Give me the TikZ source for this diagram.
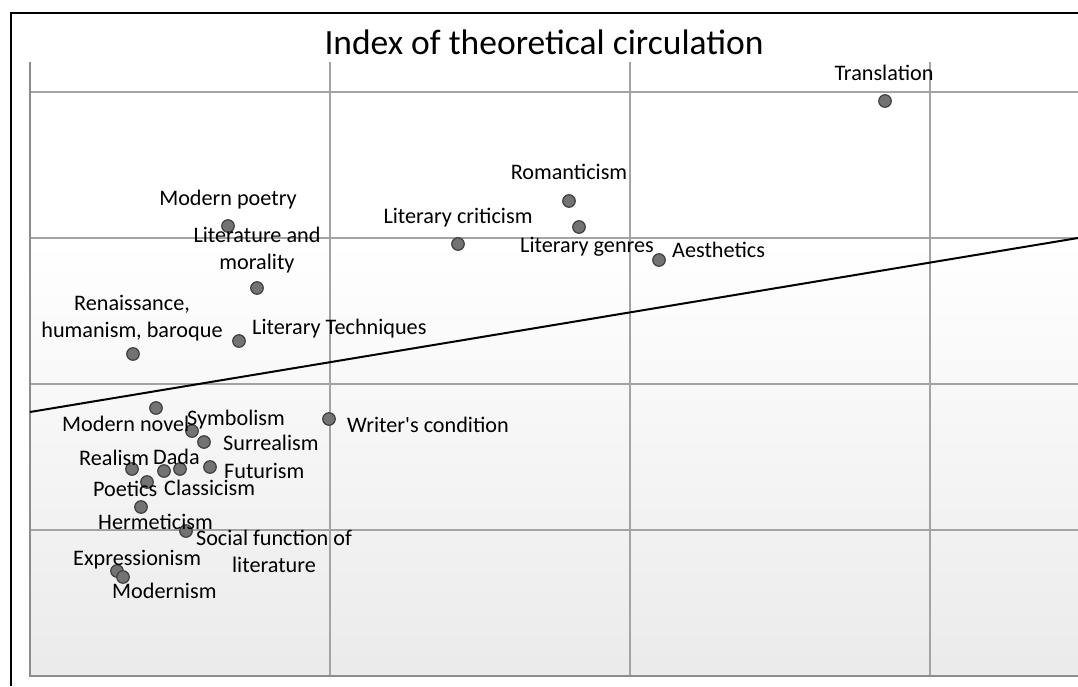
\documentclass[tikz,border=0pt]{standalone}
\usepackage{fontspec}
\setmainfont{Carlito}[Ligatures=TeXOff]
\begin{document}
\begin{tikzpicture}[x=1pt,y=-1pt,
  grid/.style={draw=black!36,line width=2pt},
  dot/.style={circle,draw=black!75,fill=black!55,line width=1.2pt,minimum size=12.5pt,inner sep=0pt},
  lbl/.style={inner sep=0pt,font=\fontsize{22.2}{27}\selectfont,text=black},
  lw/.style={lbl,anchor=mid west},
  lc/.style={lbl,anchor=mid},
  lm/.style={lbl,align=center,anchor=center}]
\useasboundingbox (0,0) rectangle (1078,686);
\fill[white] (0,0) rectangle (1078,686);
% plot background
\shade[top color=white,bottom color=black!8] (30,240) rectangle (1078,676);
% frame
\draw[black,line width=1.5pt] (11,686) -- (11,13) -- (1078,13);
% grid
\foreach \gx in {330,630,930} \draw[grid] (\gx,62) -- (\gx,676);
\foreach \gy in {92,238,384,530} \draw[grid] (30,\gy) -- (1078,\gy);
\draw[grid,draw=black!45] (30,62) -- (30,676) -- (1078,676);
% title
\node[inner sep=0pt,font=\fontsize{35.5}{40}\selectfont,anchor=mid] (title) at (544,52) {Index of theoretical circulation};
% trend line
\coordinate (t1) at (30,412);
\coordinate (t2) at (1078,238);
\draw[black,line width=2pt] (t1) -- (t2);
% points
\node[dot] (pTrans) at (885,101) {};
\node[dot] (pRom) at (569,201) {};
\node[dot] (pGen) at (579,227) {};
\node[dot] (pCrit) at (458,244) {};
\node[dot] (pAes) at (659,260) {};
\node[dot] (pPoet) at (228,226) {};
\node[dot] (pMor) at (257,288) {};
\node[dot] (pRen) at (133,354) {};
\node[dot] (pTech) at (239,341) {};
\node[dot] (pWri) at (329,419) {};
\node[dot] (pNov) at (156,408) {};
\node[dot] (pSym) at (192,431) {};
\node[dot] (pSur) at (204,442) {};
\node[dot] (pRea) at (132,469) {};
\node[dot] (pDada) at (164,471) {};
\node[dot] (pCla) at (180,469) {};
\node[dot] (pFut) at (210,467) {};
\node[dot] (pPoe) at (147,482) {};
\node[dot] (pHer) at (141,507) {};
\node[dot] (pSoc) at (186,531) {};
\node[dot] (pExp) at (117,571) {};
\node[dot] (pMod) at (123,577) {};
% labels
\node[lc] (lTrans) at (884,78) {Translation};
\node[lc] (lRom) at (569,177) {Romanticism};
\node[lc] (lCrit) at (458,221) {Literary criticism};
\node[lc] (lGen) at (587,250) {Literary genres};
\node[lw] (lAes) at (672,255) {Aesthetics};
\node[lc] (lPoet) at (228,203) {Modern poetry};
\node[lm] (lMor) at (257,250) {Literature and\\morality};
\node[lm] (lRen) at (132,318) {Renaissance,\\humanism, baroque};
\node[lw] (lTech) at (252,332) {Literary Techniques};
\node[lw] (lWri) at (347,430) {Writer's condition};
\node[lw] (lNov) at (62,429) {Modern novel};
\node[lw] (lSym) at (187,423) {Symbolism};
\node[lw] (lSur) at (223,448) {Surrealism};
\node[lw] (lRea) at (79,463) {Realism};
\node[lw] (lDada) at (153,462) {Dada};
\node[lw] (lFut) at (224,476) {Futurism};
\node[lw] (lPoe) at (93,494) {Poetics};
\node[lw] (lCla) at (164,493) {Classicism};
\node[lw] (lHer) at (98,527) {Hermeticism};
\node[lm] (lSoc) at (274,551) {Social function of\\literature};
\node[lw] (lExp) at (73,563) {Expressionism};
\node[lw] (lMod) at (112,596) {Modernism};
\end{tikzpicture}
\end{document}
